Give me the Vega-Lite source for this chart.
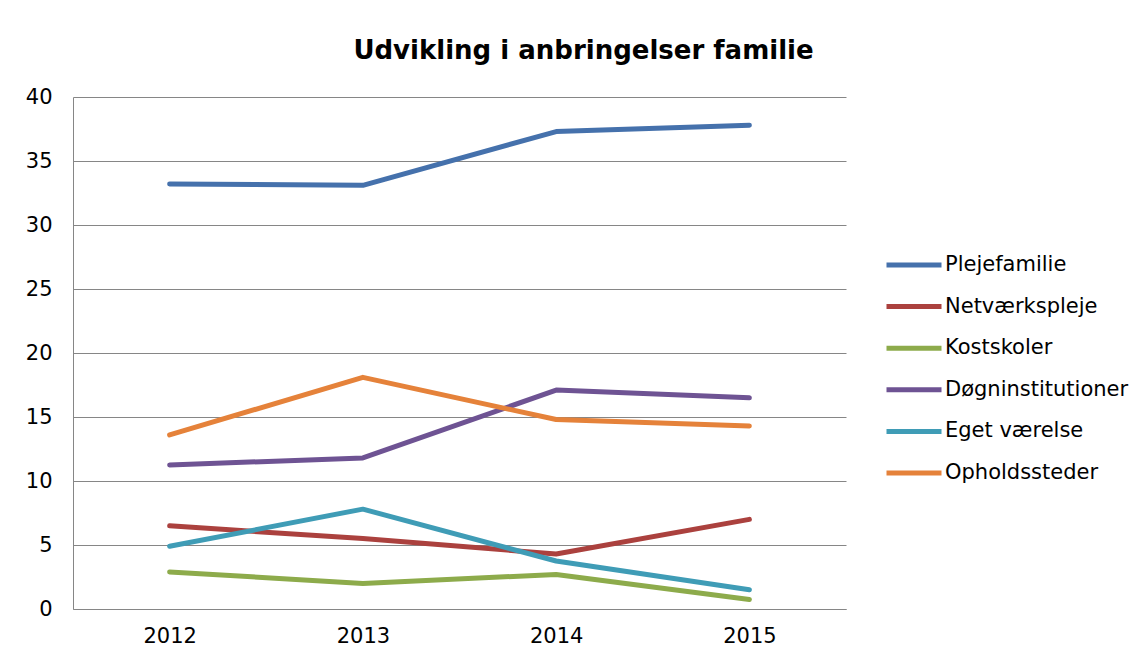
{
  "$schema": "https://vega.github.io/schema/vega-lite/v6.json",
  "width": 773,
  "height": 512,
  "autosize": {"type": "none"},
  "padding": {"left": 73, "top": 97, "right": 298, "bottom": 50},
  "background": "white",
  "title": {
    "text": "Udvikling i anbringelser familie",
    "font": "DejaVu Sans",
    "fontSize": 26,
    "fontWeight": "bold",
    "color": "black",
    "anchor": "middle",
    "frame": "group",
    "dx": 124,
    "baseline": "alphabetic",
    "offset": 1
  },
  "data": {
    "values": [
      {"year": "2012", "series": "Plejefamilie", "value": 33.2},
      {"year": "2013", "series": "Plejefamilie", "value": 33.1},
      {"year": "2014", "series": "Plejefamilie", "value": 37.3},
      {"year": "2015", "series": "Plejefamilie", "value": 37.8},
      {"year": "2012", "series": "Netværkspleje", "value": 6.5},
      {"year": "2013", "series": "Netværkspleje", "value": 5.5},
      {"year": "2014", "series": "Netværkspleje", "value": 4.3},
      {"year": "2015", "series": "Netværkspleje", "value": 7.0},
      {"year": "2012", "series": "Kostskoler", "value": 2.9},
      {"year": "2013", "series": "Kostskoler", "value": 2.0},
      {"year": "2014", "series": "Kostskoler", "value": 2.7},
      {"year": "2015", "series": "Kostskoler", "value": 0.75},
      {"year": "2012", "series": "Døgninstitutioner", "value": 11.25},
      {"year": "2013", "series": "Døgninstitutioner", "value": 11.8},
      {"year": "2014", "series": "Døgninstitutioner", "value": 17.1},
      {"year": "2015", "series": "Døgninstitutioner", "value": 16.5},
      {"year": "2012", "series": "Eget værelse", "value": 4.9},
      {"year": "2013", "series": "Eget værelse", "value": 7.8},
      {"year": "2014", "series": "Eget værelse", "value": 3.75},
      {"year": "2015", "series": "Eget værelse", "value": 1.5},
      {"year": "2012", "series": "Opholdssteder", "value": 13.6},
      {"year": "2013", "series": "Opholdssteder", "value": 18.1},
      {"year": "2014", "series": "Opholdssteder", "value": 14.8},
      {"year": "2015", "series": "Opholdssteder", "value": 14.3}
    ]
  },
  "mark": {"type": "line", "strokeWidth": 5, "strokeCap": "round", "strokeJoin": "round"},
  "encoding": {
    "x": {
      "field": "year",
      "type": "ordinal",
      "scale": {"paddingInner": 0, "paddingOuter": 0.5},
      "axis": {
        "title": null,
        "labelAngle": 0,
        "ticks": false,
        "domain": true,
        "domainColor": "#868686",
        "grid": false,
        "labelPadding": 16,
        "labelFont": "DejaVu Sans",
        "labelFontSize": 21,
        "labelColor": "black"
      }
    },
    "y": {
      "field": "value",
      "type": "quantitative",
      "scale": {"domain": [0, 40], "nice": false},
      "axis": {
        "title": null,
        "values": [0, 5, 10, 15, 20, 25, 30, 35, 40],
        "ticks": false,
        "domain": true,
        "domainColor": "#868686",
        "grid": true,
        "gridColor": "#868686",
        "gridOpacity": 1,
        "labelPadding": 21,
        "labelFont": "DejaVu Sans",
        "labelFontSize": 21,
        "labelColor": "black"
      }
    },
    "color": {
      "field": "series",
      "type": "nominal",
      "sort": ["Plejefamilie", "Netværkspleje", "Kostskoler", "Døgninstitutioner", "Eget værelse", "Opholdssteder"],
      "scale": {
        "domain": ["Plejefamilie", "Netværkspleje", "Kostskoler", "Døgninstitutioner", "Eget værelse", "Opholdssteder"],
        "range": ["#4571AC", "#AB413E", "#8DAB4B", "#6E5393", "#3F9CB6", "#E5823A"]
      },
      "legend": {
        "title": null,
        "orient": "none",
        "legendX": 811,
        "legendY": 138,
        "symbolType": "stroke",
        "symbolSize": 3025,
        "symbolStrokeWidth": 5,
        "labelFont": "DejaVu Sans",
        "labelFontSize": 21,
        "labelColor": "black",
        "labelOffset": 1,
        "labelLimit": 400,
        "rowPadding": 1.6
      }
    }
  },
  "config": {"view": {"stroke": null}}
}
